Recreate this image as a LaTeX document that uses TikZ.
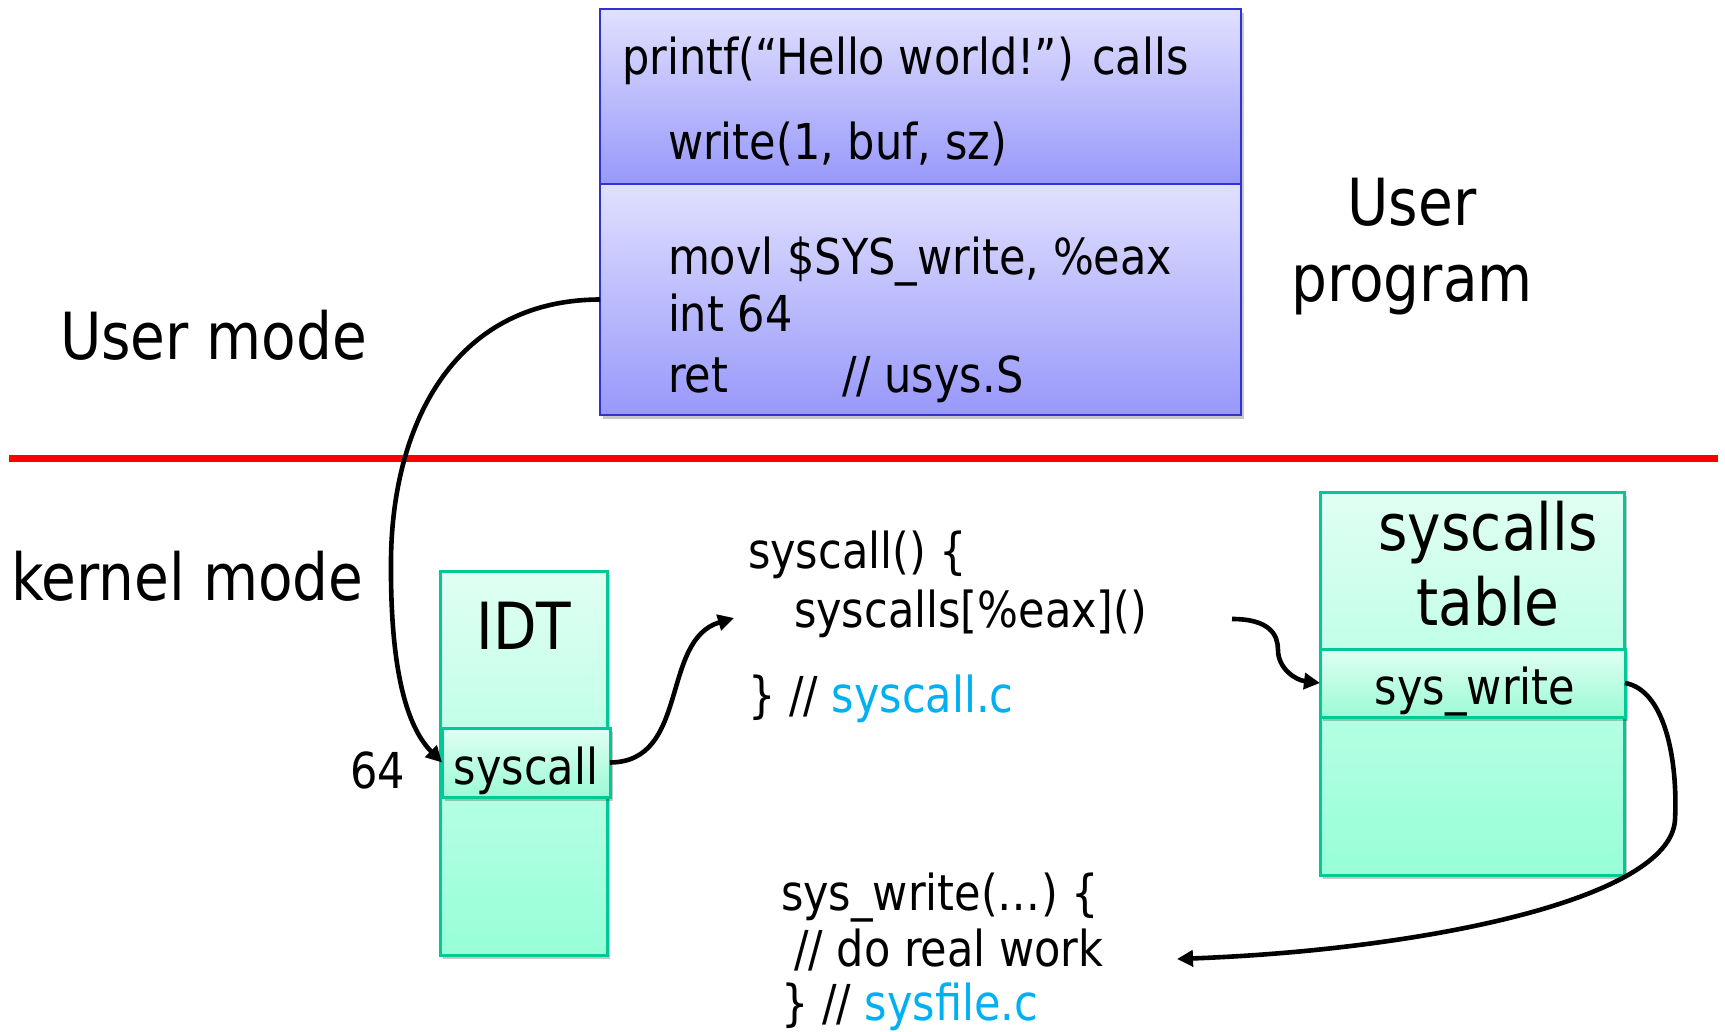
\documentclass[tikz,border=0pt]{standalone}
\usepackage{fontspec}
\setmainfont{DejaVu Sans}[FakeStretch=0.87]
\usetikzlibrary{arrows.meta,shadows}
\definecolor{bluetop}{RGB}{224,224,255}
\definecolor{bluebot}{RGB}{152,152,250}
\definecolor{blueedge}{RGB}{51,51,204}
\definecolor{greentop}{RGB}{224,255,243}
\definecolor{greenbot}{RGB}{150,255,216}
\definecolor{greenedge}{RGB}{0,200,150}
\definecolor{subtop}{RGB}{224,255,242}
\definecolor{subbot}{RGB}{155,250,214}
\definecolor{filecol}{RGB}{0,176,240}
\definecolor{redline}{RGB}{255,0,0}
\newcommand{\BigTxt}{\fontsize{65}{78}\selectfont}
\newcommand{\SmTxt}{\fontsize{49.5}{59}\selectfont}
\begin{document}
\begin{tikzpicture}[x=1pt,y=-1pt,
  every node/.style={inner sep=0pt,outer sep=0pt},
  shad/.style={drop shadow={shadow xshift=3pt,shadow yshift=-4pt,fill=black,opacity=0.22}},
  bluebox/.style={rectangle,draw=blueedge,line width=2.8pt,top color=bluetop,bottom color=bluebot,shad},
  greenbox/.style={rectangle,draw=greenedge,line width=3pt,top color=greentop,bottom color=greenbot,shad},
  subbox/.style={rectangle,draw=greenedge,line width=3pt,top color=subtop,bottom color=subbot,shad},
  big/.style={font=\BigTxt},
  sm/.style={font=\SmTxt},
  arr/.style={line width=4.6pt,-{Triangle[length=16pt,width=16pt]}}]
\useasboundingbox (0,0) rectangle (1725,1032);
% user program box
\node[bluebox,minimum width=641pt,minimum height=175pt] (utop) at (920.5,96.5) {};
\node[bluebox,minimum width=641pt,minimum height=231pt] (ubot) at (920.5,299.5) {};
\node[sm,anchor=base west] (l1) at (622,75) {printf(“Hello world!”) calls};
\node[sm,anchor=base west] (l2) at (668,160) {write(1, buf, sz)};
\node[sm,anchor=base west] (l3) at (668,275) {movl \$SYS\_write, \%eax};
\node[sm,anchor=base west] (l4) at (668,332) {int 64};
\node[sm,anchor=base west] (l5) at (668,392) {ret};
\node[sm,anchor=base west] (l6) at (842,392) {// usys.S};
\node[big,anchor=base] (up1) at (1412,226) {User};
\node[big,anchor=base] (up2) at (1412,302) {program};
% mode labels and separator
\node[big,anchor=base west] (umode) at (60,360) {User mode};
\node[big,anchor=base west] (kmode) at (11,600) {kernel mode};
\draw[redline,line width=7pt] (9,458) -- (1718,458);
% IDT
\node[greenbox,minimum width=167pt,minimum height=384pt] (idt) at (523.5,763) {};
\node[big,anchor=base] (idtlbl) at (524,649) {IDT};
\node[subbox,minimum width=168pt,minimum height=69pt] (idtsys) at (526,762.5) {};
\node[sm,anchor=base] (idtsyslbl) at (526,784) {syscall};
\node[sm,anchor=base east] (n64) at (405,788) {64};
% syscalls table
\node[greenbox,minimum width=304pt,minimum height=383pt] (tbl) at (1472,683.5) {};
\node[big,anchor=base] (tbl1) at (1488,550) {syscalls};
\node[big,anchor=base] (tbl2) at (1488,625) {table};
\node[subbox,minimum width=305pt,minimum height=68pt] (stw) at (1472.5,683) {};
\node[sm,anchor=base] (stwlbl) at (1475,704) {sys\_write};
% code blocks
\node[sm,anchor=base west] (c1a) at (748,568) {syscall() \{};
\node[sm,anchor=base west] (c1b) at (794,627) {syscalls[\%eax]()};
\node[sm,anchor=base west] (c1c) at (748,712) {\} // \textcolor{filecol}{syscall.c}};
\node[sm,anchor=base west] (c2a) at (781,910) {sys\_write(…) \{};
\node[sm,anchor=base west] (c2b) at (794,966) {// do real work};
\node[sm,anchor=base west] (c2c) at (781,1020) {\} // \textcolor{filecol}{sysfile.c}};
% connector ends
\coordinate (e2) at (734,618);
\coordinate (s3) at (1232,619);
\coordinate (e4) at (1177,959);
% connectors
\draw[arr] (ubot.west) .. controls (450,300) and (392,430) .. (391,560) .. controls (390,680) and (410,730) .. (idtsys.west);
\draw[arr] (idtsys.east) .. controls (690,762) and (660,640) .. (e2);
\draw[arr] (s3) .. controls (1270,619) and (1278,635) .. (1278,650) .. controls (1278,668) and (1295,680) .. (stw.west);
\draw[arr] (stw.east) .. controls (1665,690) and (1678,760) .. (1675,820) .. controls (1670,900) and (1420,950) .. (e4);
\end{tikzpicture}
\end{document}
